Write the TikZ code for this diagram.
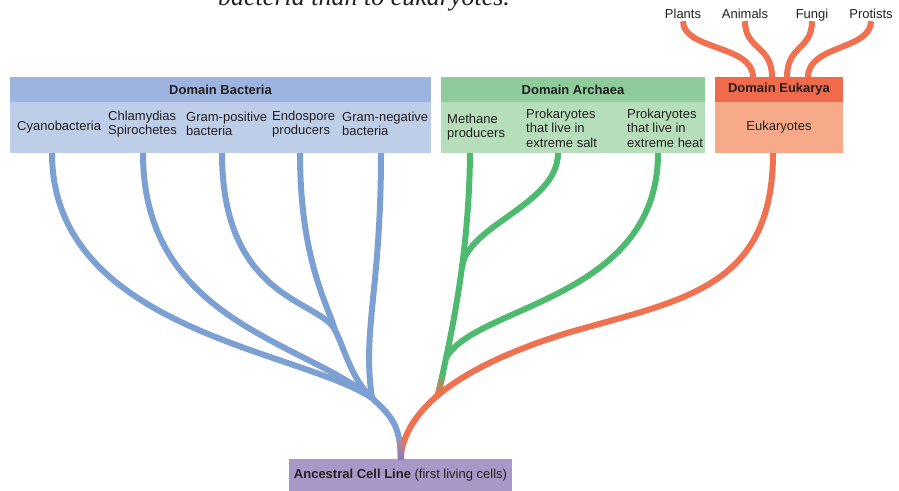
\documentclass[tikz,border=0pt]{standalone}
\usepackage{fontspec}
\setmainfont{Liberation Sans}
\newfontfamily\bookfont{Liberation Serif}

\definecolor{ink}{RGB}{35,31,32}
\definecolor{bachead}{RGB}{157,181,222}
\definecolor{bacbody}{RGB}{190,205,232}
\definecolor{bacline}{RGB}{124,160,210}
\definecolor{archead}{RGB}{142,204,155}
\definecolor{arcbody}{RGB}{183,222,187}
\definecolor{arcline}{RGB}{78,186,112}
\definecolor{eukhead}{RGB}{240,106,76}
\definecolor{eukbody}{RGB}{247,170,138}
\definecolor{eukline}{RGB}{240,113,80}
\definecolor{rootfill}{RGB}{168,152,200}
\definecolor{rootline}{RGB}{138,122,188}

\tikzset{
  head/.style={inner sep=0pt, minimum height=25pt, text=ink,
    font=\bfseries\fontsize{13}{14.5}\selectfont},
  body/.style={inner sep=0pt, minimum height=51pt},
  lbl/.style={inner sep=0pt, align=left, text=ink,
    font=\fontsize{13}{14.5}\selectfont},
  branch/.style={line width=6pt},
}

\begin{document}
\begin{tikzpicture}[x=1pt,y=-1pt]
  \useasboundingbox (0,0) rectangle (899,490);

  \node[anchor=base west, inner sep=0pt, text=ink,
    font=\bookfont\itshape\fontsize{26}{30}\selectfont] (caption) at (218,5)
    {bacteria than to eukaryotes.};

  % domain boxes
  \node[head, fill=bachead, minimum width=421pt] (bacteria) at (220.5,89.5) {Domain Bacteria};
  \node[body, fill=bacbody, minimum width=421pt] (bacbody) at (220.5,127.5) {};
  \node[head, fill=archead, minimum width=264pt] (archaea) at (573,89.5) {Domain Archaea};
  \node[body, fill=arcbody, minimum width=264pt] (arcbody) at (573,127.5) {};
  \node[head, fill=eukhead, minimum width=128pt] (eukarya) at (779,89.5) {Domain Eukarya};
  \node[body, fill=eukbody, minimum width=128pt] (eukbody) at (779,127.5) {};

  \node[lbl, anchor=west] (cyano) at (17,127) {Cyanobacteria};
  \node[lbl, anchor=west] (chlamyd) at (108,124) {Chlamydias\\Spirochetes};
  \node[lbl, anchor=west] (grampos) at (186,124) {Gram-positive\\bacteria};
  \node[lbl, anchor=west] (endo) at (272,124) {Endospore\\producers};
  \node[lbl, anchor=west] (gramneg) at (342,124) {Gram-negative\\bacteria};
  \node[lbl, anchor=west] (methane) at (447,127) {Methane\\producers};
  \node[lbl, anchor=west] (salt) at (526,128) {Prokaryotes\\that live in\\extreme salt};
  \node[lbl, anchor=west] (heat) at (627,128) {Prokaryotes\\that live in\\extreme heat};
  \node[lbl] (euk) at (779,127) {Eukaryotes};

  \node[lbl, anchor=base, text depth=0pt] (plants) at (683,18) {Plants};
  \node[lbl, anchor=base, text depth=0pt] (animals) at (745,18) {Animals};
  \node[lbl, anchor=base, text depth=0pt] (fungi) at (812,18) {Fungi};
  \node[lbl, anchor=base, text depth=0pt] (protists) at (871,18) {Protists};

  \node[fill=rootfill, inner sep=0pt, minimum width=223pt, minimum height=33pt,
    text=ink, font=\fontsize{13}{14.5}\selectfont] (ancestral) at (400.5,475.5)
    {\textbf{Ancestral Cell Line} (first living cells)};

  \coordinate (b1) at (52,153);
  \coordinate (b2) at (143,153);
  \coordinate (b3) at (222,153);
  \coordinate (b4) at (300,153);
  \coordinate (b5) at (381,153);
  \coordinate (a1) at (470,153);
  \coordinate (a2) at (558,153);
  \coordinate (a3) at (658,153);
  \coordinate (e0) at (773,153);
  \coordinate (e1) at (753,77);
  \coordinate (e2) at (772,77);
  \coordinate (e3) at (787,77);
  \coordinate (e4) at (808,77);
  \coordinate (gjoin) at (335,330);
  \coordinate (bjoin) at (372,398);
  \coordinate (sjoin) at (462,268);
  \coordinate (hjoin) at (446,358);
  \coordinate (mjoin) at (438,395);

  % bacteria
  \begin{scope}[branch, bacline]
    \draw (b1) .. controls (52,330) and (300,350) .. (bjoin);
    \draw (b2) .. controls (143,320) and (300,340) .. (bjoin);
    \draw (b3) .. controls (222,300) and (320,300) .. (gjoin);
    \draw (b4) .. controls (300,260) and (328,305) .. (gjoin);
    \draw (gjoin) .. controls (345,350) and (352,380) .. (bjoin);
    \draw (b5) .. controls (381,290) and (362,330) .. (bjoin);
    \draw (bjoin) .. controls (390,415) and (401,425) .. (ancestral.north);
  \end{scope}

  % archaea
  \begin{scope}[branch, arcline]
    \draw (a1) .. controls (469,260) and (450,340) .. (mjoin);
    \draw (a2) .. controls (558,205) and (466,225) .. (sjoin);
    \draw (a3) .. controls (658,300) and (475,305) .. (hjoin);
  \end{scope}
  \foreach \i in {0,...,7}{
    \pgfmathsetmacro\p{\i*100/7}
    \draw[branch, eukline!\p!arcline]
      ({443.5-\i*0.7},{372+\i*2.9}) -- ({443.5-(\i+1)*0.7},{372+(\i+1)*2.9});
  }

  % eukarya
  \begin{scope}[branch, eukline]
    \draw (e0) .. controls (773,290) and (680,300) .. (567,333)
      .. controls (480,360) and (405,400) .. (ancestral.north);
    \draw (e1) .. controls (753,45) and (683,50) .. ([yshift=-3pt]plants.south);
    \draw (e2) .. controls (772,45) and (745,50) .. ([yshift=-3pt]animals.south);
    \draw (e3) .. controls (787,45) and (812,50) .. ([yshift=-3pt]fungi.south);
    \draw (e4) .. controls (808,45) and (871,50) .. ([yshift=-3pt]protists.south);
  \end{scope}

  \shade[top color=bacline!50!eukline, bottom color=rootline]
    (398,440) rectangle (404,459);
\end{tikzpicture}
\end{document}
